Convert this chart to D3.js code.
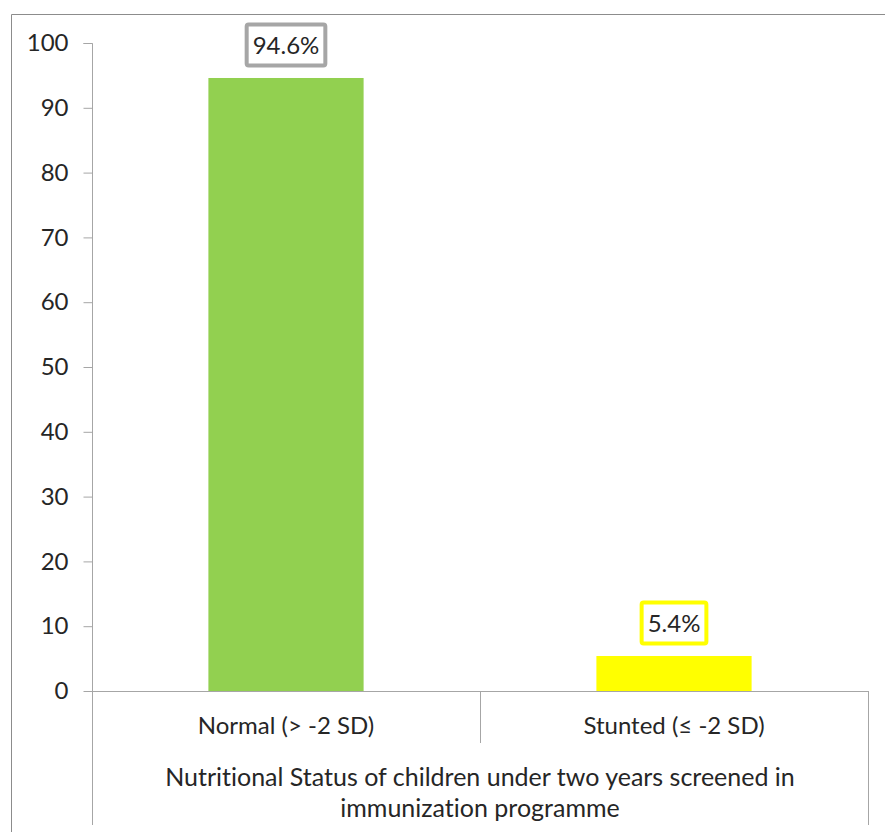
<!DOCTYPE html>
<html><head><meta charset="utf-8">
<script src="https://cdn.jsdelivr.net/npm/d3@7"></script>
<style>body{margin:0;background:#fff}svg text{font-family:Lato,"Open Sans",sans-serif;fill:#262626;font-variant-ligatures:none;font-feature-settings:"liga" 0}</style>
</head><body><svg id="c" width="885" height="832"></svg>
<script>
const categories = ["Normal (> -2 SD)", "Stunted (≤ -2 SD)"];
const values = [94.6, 5.4];
const valueLabels = ["94.6%", "5.4%"];
const barColors = ["#92d050", "#ffff00"];
const labelBorders = ["#a6a6a6", "#ffff00"];
const yTicks = [0,10,20,30,40,50,60,70,80,90,100];
const titleLines = ["Nutritional Status of children under two years screened in", "immunization programme"];

const svg = d3.select("#c");
const axisColor = "#a6a6a6";
const L = 92, R = 868, T = 43, B = 691;

// outer border
svg.append("path").attr("d", `M11.5,832 V14.5 H885`).attr("fill","none").attr("stroke","#8c8c8c").attr("stroke-width",1);

const x = d3.scaleBand().domain(categories).range([L, R]).paddingInner(0).paddingOuter(0);
const y = d3.scaleLinear().domain([0,100]).range([B, T]);

// y axis
const ya = svg.append("g").attr("transform",`translate(${L+0.5},0)`)
  .call(d3.axisLeft(y).tickValues(yTicks).tickSize(9).tickPadding(15).tickFormat(d3.format("d")));
ya.select(".domain").attr("stroke",axisColor).attr("d",`M-9,${T+0.5}H0V825`);
ya.selectAll(".tick line").attr("stroke",axisColor);
ya.selectAll(".tick text").attr("font-size",24).attr("font-family","Lato").attr("fill","#262626");

// x axis line and dividers
svg.append("line").attr("x1",L).attr("x2",R+0.5).attr("y1",B+0.5).attr("y2",B+0.5).attr("stroke",axisColor);
svg.append("line").attr("x1",x(categories[1])+0.5).attr("x2",x(categories[1])+0.5).attr("y1",B).attr("y2",743).attr("stroke",axisColor);
svg.append("line").attr("x1",R+0.5).attr("x2",R+0.5).attr("y1",B).attr("y2",825).attr("stroke",axisColor);

// bars
const bw = x.bandwidth()*0.4;
svg.selectAll("rect.bar").data(values).join("rect").attr("class","bar")
  .attr("x",(d,i)=>x(categories[i])+x.bandwidth()/2-bw/2)
  .attr("width",bw)
  .attr("y",d=>y(d)).attr("height",d=>B-y(d))
  .attr("fill",(d,i)=>barColors[i]);

// value labels
const lg = svg.selectAll("g.lab").data(values).join("g").attr("class","lab")
  .attr("transform",(d,i)=>`translate(${x(categories[i])+x.bandwidth()/2},${y(d)-33})`);
lg.append("text").attr("text-anchor","middle").attr("dy","0.36em").attr("font-size",24)
  .text((d,i)=>valueLabels[i]);
lg.each(function(d,i){
  const t = d3.select(this).select("text").node().getBBox();
  d3.select(this).insert("rect","text")
    .attr("x",t.x-6).attr("y",-20.5).attr("width",t.width+12).attr("height",41)
    .attr("fill","#fff").attr("stroke",labelBorders[i]).attr("stroke-width",4).attr("rx",2);
});

// category labels
svg.selectAll("text.cat").data(categories).join("text").attr("class","cat")
  .attr("x",d=>x(d)+x.bandwidth()/2).attr("y",725).attr("dy","0.36em")
  .attr("text-anchor","middle").attr("font-size",24).text(d=>d);

// title
svg.selectAll("text.ttl").data(titleLines).join("text").attr("class","ttl")
  .attr("x",(L+R)/2).attr("y",(d,i)=>777+i*31).attr("dy","0.36em")
  .attr("text-anchor","middle").attr("font-size",25).text(d=>d);
</script></body></html>
